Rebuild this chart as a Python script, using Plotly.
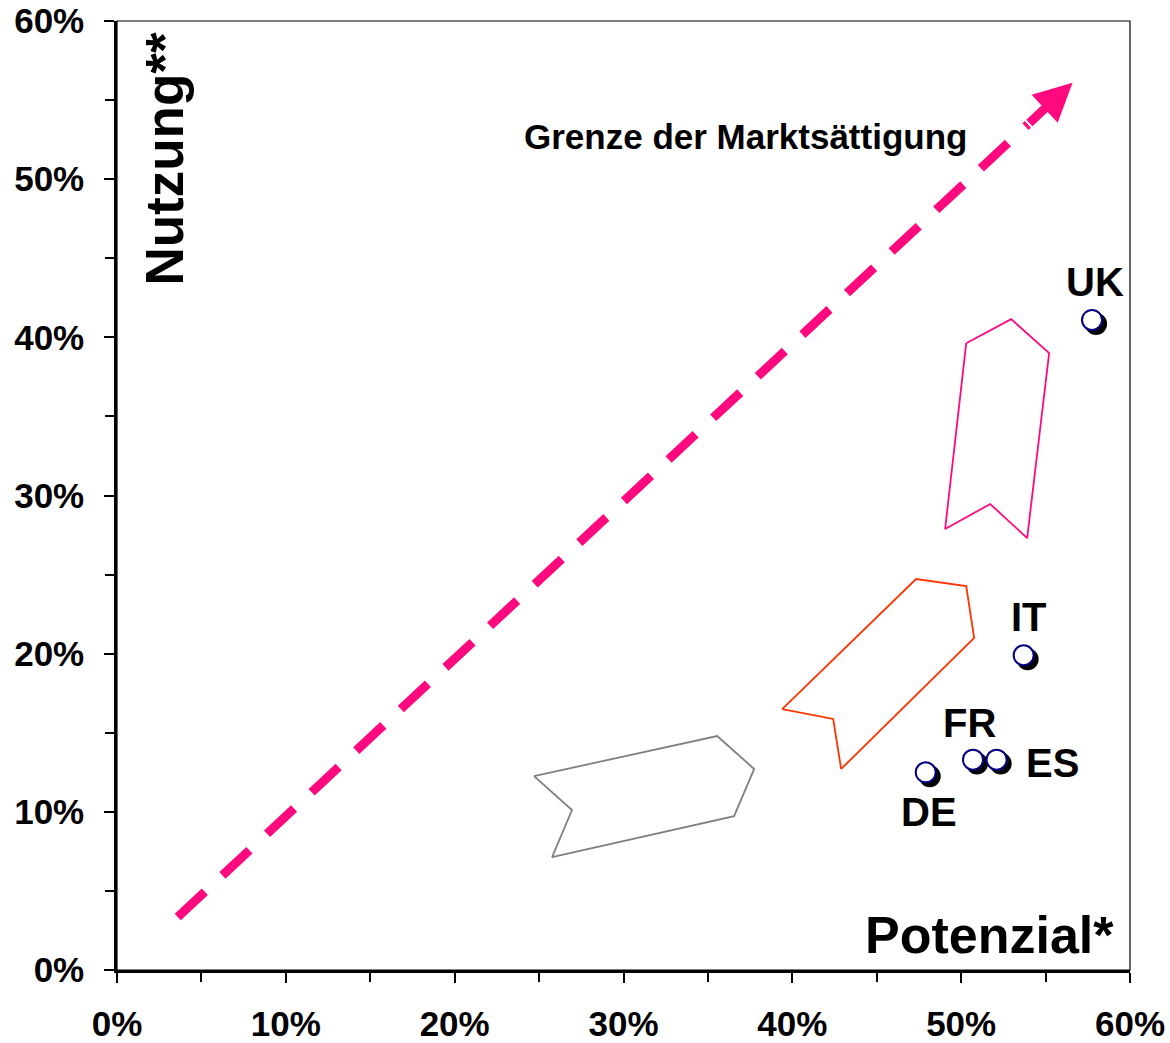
import plotly.graph_objects as go

# Market position per country: potential (x) vs. usage (y), in percent
countries = ["UK", "IT", "FR", "ES", "DE"]
potenzial = [57.75, 53.7, 50.7, 52.1, 47.9]
nutzung = [41.1, 19.9, 13.3, 13.3, 12.5]

# Saturation boundary (dashed arrow), start and tip
grenze_x = [3.6, 56.6]
grenze_y = [3.35, 56.1]

# Outlined block arrows showing development direction
grau_x = [24.70, 35.55, 37.74, 36.55, 25.77, 26.95, 24.70]
grau_y = [12.26, 14.79, 12.71, 9.73, 7.14, 10.11, 12.26]
orange_x = [39.40, 47.33, 50.30, 50.77, 42.89, 42.42, 39.40]
orange_y = [16.50, 24.72, 24.27, 20.99, 12.71, 15.87, 16.50]
pink_x = [50.30, 52.96, 55.21, 53.91, 51.72, 49.05, 50.30]
pink_y = [39.63, 41.15, 39.00, 27.31, 29.46, 27.88, 39.63]

tick_vals = [0, 10, 20, 30, 40, 50, 60]
tick_text = ["0%", "10%", "20%", "30%", "40%", "50%", "60%"]

FONT = "Liberation Sans, Arial, sans-serif"
PINK = "#FF0A7E"

# pixel offsets of each country label relative to its marker
label_style = {
    "UK": dict(xshift=3, yshift=38, xanchor="center"),
    "IT": dict(xshift=5, yshift=38, xanchor="center"),
    "FR": dict(xshift=-3, yshift=37, xanchor="center"),
    "ES": dict(xshift=27, yshift=-3, xanchor="left"),
    "DE": dict(xshift=3, yshift=-40, xanchor="center"),
}

fig = go.Figure()

for px_, py_, col in [(grau_x, grau_y, "#808080"),
                      (orange_x, orange_y, "#FF3300"),
                      (pink_x, pink_y, "#FF0A7E")]:
    fig.add_trace(go.Scatter(x=px_, y=py_, mode="lines",
                             line=dict(color=col, width=1.8),
                             hoverinfo="skip", showlegend=False))

# dashed shaft of the saturation arrow (stops where the arrow head begins)
shaft_frac = 0.95
shaft_end_x = grenze_x[0] + (grenze_x[1] - grenze_x[0]) * shaft_frac
shaft_end_y = grenze_y[0] + (grenze_y[1] - grenze_y[0]) * shaft_frac
fig.add_trace(go.Scatter(
    x=[grenze_x[0], shaft_end_x], y=[grenze_y[0], shaft_end_y],
    mode="lines", line=dict(color=PINK, width=9, dash="37px,24px"),
    hoverinfo="skip", showlegend=False))
fig.add_annotation(x=grenze_x[1], y=grenze_y[1], ax=shaft_end_x, ay=shaft_end_y,
                   xref="x", yref="y", axref="x", ayref="y", text="",
                   showarrow=True, arrowhead=2, arrowsize=0.85, arrowwidth=9,
                   arrowcolor=PINK)

# drop shadows of the country markers
shadow_dx, shadow_dy = 0.24, -0.25
fig.add_trace(go.Scatter(
    x=[v + shadow_dx for v in potenzial], y=[v + shadow_dy for v in nutzung],
    mode="markers", marker=dict(size=20, color="black", line=dict(width=2, color="black")),
    hoverinfo="skip", showlegend=False))
fig.add_trace(go.Scatter(
    x=potenzial, y=nutzung, mode="markers", text=countries,
    marker=dict(size=20, color="white", line=dict(width=2, color="#000080")),
    showlegend=False))

for c, xv, yv in zip(countries, potenzial, nutzung):
    st = label_style[c]
    fig.add_annotation(x=xv, y=yv, xref="x", yref="y", text=c, showarrow=False,
                       xanchor=st["xanchor"], yanchor="middle",
                       xshift=st["xshift"], yshift=st["yshift"],
                       font=dict(family=FONT, size=40, color="black", weight="bold"))

fig.add_annotation(x=37.2, y=52.7, xref="x", yref="y", text="Grenze der Marktsättigung",
                   showarrow=False, xanchor="center", yanchor="middle",
                   font=dict(family=FONT, size=35, color="black", weight="bold"))
fig.add_annotation(x=2.84, y=51.3, xref="x", yref="y", text="Nutzung**", textangle=-90,
                   showarrow=False, xanchor="center", yanchor="middle",
                   font=dict(family=FONT, size=53, color="black", weight="bold"))
fig.add_annotation(x=51.66, y=2.21, xref="x", yref="y", text="Potenzial*",
                   showarrow=False, xanchor="center", yanchor="middle",
                   font=dict(family=FONT, size=52, color="black", weight="bold"))

axis_common = dict(
    range=[0, 60], tickvals=tick_vals, ticktext=tick_text,
    showgrid=False, zeroline=False, showline=True, linecolor="black", linewidth=2.5,
    ticks="outside", ticklen=10, tickwidth=2, tickcolor="black",
    minor=dict(dtick=5, ticks="outside", ticklen=9, tickwidth=2, tickcolor="black", showgrid=False),
    tickfont=dict(family=FONT, size=35, color="black", weight="bold"),
    fixedrange=True, automargin=False,
)
fig.update_xaxes(**axis_common, ticklabelstandoff=11)
fig.update_yaxes(**axis_common, ticklabelstandoff=13)

# thin frame along the top and right of the plot area
fig.add_shape(type="rect", xref="paper", yref="paper", x0=0, y0=0, x1=1, y1=1,
              line=dict(color="black", width=1.2), layer="above")

fig.update_layout(
    width=1170, height=1043,
    margin=dict(l=117, r=40, t=21, b=73),
    plot_bgcolor="white", paper_bgcolor="white",
    showlegend=False,
)

fig.write_html("out.html")
